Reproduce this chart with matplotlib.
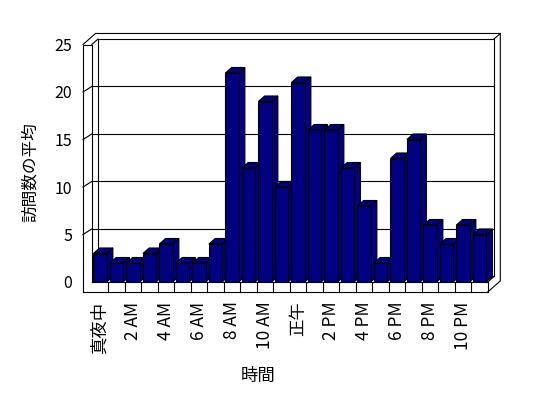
import matplotlib.pyplot as plt
from matplotlib.patches import Polygon

plt.rcParams['font.family'] = ['Noto Sans CJK JP', 'DejaVu Sans']

hours = list(range(24))
visits = [3, 2, 2, 3, 4, 2, 2, 4, 22, 12, 19, 10, 21, 16, 16, 12, 8, 2, 13, 15, 6, 4, 6, 5]
tick_pos = list(range(0, 24, 2))
tick_labels = ['真夜中', '2 AM', '4 AM', '6 AM', '8 AM', '10 AM',
               '正午', '2 PM', '4 PM', '6 PM', '8 PM', '10 PM']
y_ticks = [0, 5, 10, 15, 20, 25]

navy = '#000080'
lw = 0.8
dx, dy = 0.38, 0.58      # depth offset of the 3d box, in data units
wall_x = -1.03           # outer edge of the left wall
floor_y = -1.05          # bottom of the floor slab
x0, x1 = -0.5, 23.5
ytop = 25

fig = plt.figure(figsize=(5.48, 3.98), dpi=100)
ax = fig.add_axes([91.75 / 548, 116 / 398, 396 / 548, 237.5 / 398])
ax.set_xlim(x0, x1)
ax.set_ylim(0, ytop)
for s in ax.spines.values():
    s.set_visible(False)


def line(xs, ys, z=1):
    ax.plot(xs, ys, color='black', lw=lw, clip_on=False, zorder=z)


# back wall + gridlines
line([x0 + dx, x0 + dx, x1 + dx, x1 + dx], [dy, ytop + dy, ytop + dy, dy])
line([x0 + dx, x1 + dx], [dy, dy])
for v in y_ticks[1:-1]:
    line([x0, x1 + dx], [v + dy, v + dy])
    line([wall_x, x0], [v, v + dy])
# wall thickness
line([wall_x, wall_x + 2 * dx, x1 + 2 * dx, x1 + 2 * dx, x1],
     [ytop, ytop + 2 * dy, ytop + 2 * dy, floor_y + 2 * dy, floor_y])
line([x0, x0 + dx], [ytop, ytop + dy])
line([x1 + dx, x1 + 2 * dx], [ytop + dy, ytop + 2 * dy])
line([x1 + dx, x1], [dy, 0])

# bars
bars = ax.bar(hours, visits, width=0.8, color=navy, edgecolor='black', linewidth=lw)
for i, (h, v) in enumerate(zip(hours, visits)):
    r = h + 0.4
    l = h - 0.4
    side = Polygon([(r, 0), (r + dx, dy), (r + dx, v + dy), (r, v)], closed=True,
                   facecolor=navy, edgecolor='black', lw=lw, clip_on=False, zorder=3 + 2 * i)
    top = Polygon([(l, v), (l + dx, v + dy), (r + dx, v + dy), (r, v)], closed=True,
                  facecolor=navy, edgecolor='black', lw=lw, clip_on=False, zorder=3 + 2 * i)
    ax.add_patch(side)
    ax.add_patch(top)
    bars[i].set_zorder(4 + 2 * i)

# front of left wall and floor
fz = 100
line([wall_x, wall_x, x0, x0], [floor_y, ytop, ytop, 0], fz)
line([x0, x1, x1], [0, 0, floor_y], fz)
line([wall_x, x1], [floor_y, floor_y], fz)
for k in range(1, 24):
    line([x0 + k, x0 + k], [floor_y, 0], fz)

ax.set_yticks(y_ticks)
ax.set_xticks(tick_pos, tick_labels, rotation=90)
ax.tick_params(axis='y', length=0, pad=14, labelsize=11.5)
ax.tick_params(axis='x', length=0, pad=14, labelsize=12.5)

fig.text(30 / 548, 1 - 172 / 398, '訪問数の平均', rotation=90, ha='center', va='center', fontsize=12)
fig.text(258 / 548, 1 - 376 / 398, '時間', ha='center', va='center', fontsize=12.5)

fig.savefig('out.png', dpi=100, facecolor='white')
